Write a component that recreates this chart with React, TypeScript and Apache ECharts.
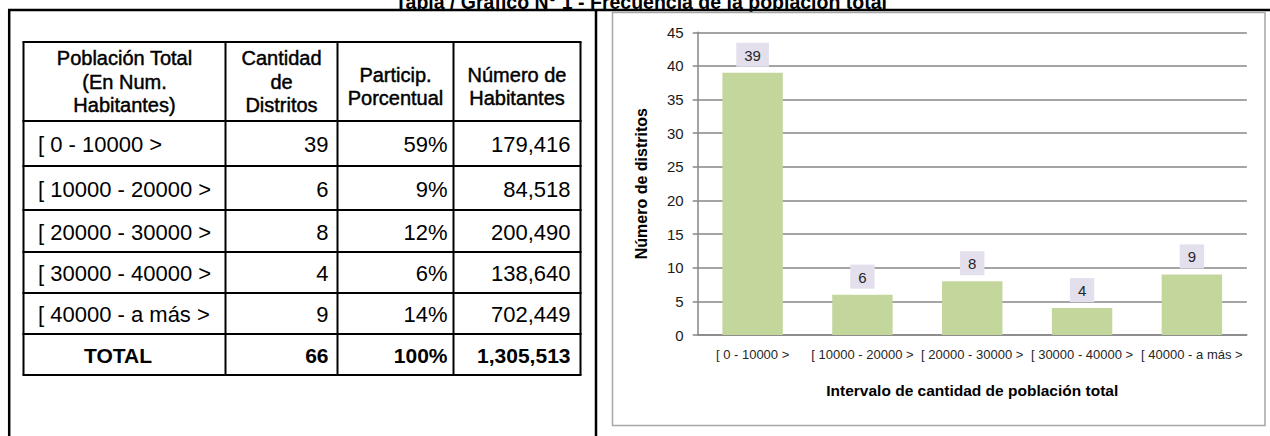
import { useEffect, useRef } from "react";
import * as echarts from "echarts";

// ---- data ----
const TITLE = "Tabla / Gráfico N° 1 - Frecuencia de la población total";
const RANGES = [
  "[ 0 - 10000 >",
  "[ 10000 - 20000 >",
  "[ 20000 - 30000 >",
  "[ 30000 - 40000 >",
  "[ 40000 - a más >",
];
const DISTRICTS = [39, 6, 8, 4, 9];
const SHARE_PCT = [59, 9, 12, 6, 14];
const INHABITANTS = [179416, 84518, 200490, 138640, 702449];
const HEADERS = [
  ["Población Total", "(En Num.", "Habitantes)"],
  ["Cantidad", "de", "Distritos"],
  ["Particip.", "Porcentual"],
  ["Número de", "Habitantes"],
];
const TOTAL_LABEL = "TOTAL";
const Y_MIN = 0;
const Y_MAX = 45;
const Y_STEP = 5;
const Y_NAME = "Número de distritos";
const X_NAME = "Intervalo de cantidad de población total";

// ---- layout ----
const W = 1270;
const H = 436;
const SANS = "'Liberation Sans', Arial, sans-serif";
const COL_X = [23.5, 225.5, 337.5, 453.5, 580.5];
const ROW_Y = [42, 121, 166, 210, 252, 293, 334, 375];

const fmt = (n: number) => n.toLocaleString("en-US");
const sum = (a: number[]) => a.reduce((s, v) => s + v, 0);

function line(x1: number, y1: number, x2: number, y2: number, stroke = "#000", lineWidth = 2) {
  return { type: "line", silent: true, shape: { x1, y1, x2, y2 }, style: { stroke, lineWidth } };
}

function text(
  t: string,
  x: number,
  y: number,
  opts: { size?: number; weight?: string; align?: string; family?: string; fill?: string; stroke?: number } = {}
) {
  const style: any = {
    text: t,
    x,
    y,
    fill: opts.fill ?? "#000",
    fontSize: opts.size ?? 21,
    fontWeight: opts.weight ?? "normal",
    fontFamily: opts.family ?? SANS,
    align: opts.align ?? "center",
    verticalAlign: "middle",
  };
  if (opts.stroke) {
    style.stroke = opts.fill ?? "#000";
    style.lineWidth = opts.stroke;
  }
  return { type: "text", silent: true, style };
}

function buildTable() {
  const els: any[] = [];
  // grid lines
  ROW_Y.forEach((y) => els.push(line(COL_X[0] - 1, y, COL_X[COL_X.length - 1] + 1, y)));
  COL_X.forEach((x) => els.push(line(x, ROW_Y[0], x, ROW_Y[ROW_Y.length - 1])));

  // header
  const headTop = ROW_Y[0];
  const headBot = ROW_Y[1];
  const lh = 23.5;
  HEADERS.forEach((lines, c) => {
    const cx = (COL_X[c] + COL_X[c + 1]) / 2;
    const mid = (headTop + headBot) / 2 + (lines.length === 2 ? 5 : 0);
    const start = mid - ((lines.length - 1) * lh) / 2;
    lines.forEach((l, i) => els.push(text(l, cx, start + i * lh, { size: 20, stroke: 0.45 })));
  });

  // body rows
  const pad = [9, 6, 10];
  const rows = RANGES.map((r, i) => [r, String(DISTRICTS[i]), SHARE_PCT[i] + "%", fmt(INHABITANTS[i])]);
  rows.forEach((cells, r) => {
    const cy = (ROW_Y[r + 1] + ROW_Y[r + 2]) / 2 + 1;
    els.push(text(cells[0], 38, cy, { size: 22, align: "left" }));
    for (let c = 1; c < 4; c++) {
      els.push(text(cells[c], COL_X[c + 1] - pad[c - 1], cy, { size: 22, align: "right" }));
    }
  });

  // total row
  const ty = (ROW_Y[6] + ROW_Y[7]) / 2 + 1;
  els.push(text(TOTAL_LABEL, 118, ty, { size: 21, weight: "bold" }));
  els.push(text(String(sum(DISTRICTS)), COL_X[2] - pad[0], ty, { size: 21, weight: "bold", align: "right" }));
  els.push(text(sum(SHARE_PCT) + "%", COL_X[3] - pad[1], ty, { size: 21, weight: "bold", align: "right" }));
  els.push(text(fmt(sum(INHABITANTS)), COL_X[4] - pad[2], ty, { size: 21, weight: "bold", align: "right" }));
  return els;
}

export default function App() {
  const ref = useRef<HTMLDivElement>(null);

  useEffect(() => {
    if (!ref.current) return;
    const chart = echarts.init(ref.current, undefined, { renderer: "svg", width: W, height: H });

    const graphic: any[] = [
      // page frame
      line(8, 10, W, 10, "#000", 2.5),
      line(9.2, 10, 9.2, H, "#000", 2.5),
      line(596, 10, 596, H, "#000", 2.5),
      // title (runs off the top edge)
      text(TITLE, 641, 1.5, { size: 19.5, weight: "bold" }),
      // chart frame
      {
        type: "rect",
        silent: true,
        shape: { x: 612.5, y: 12.5, width: 652.5, height: 413 },
        style: { fill: "none", stroke: "#a6a6a6", lineWidth: 1.5 },
      },
      ...buildTable(),
    ];

    chart.setOption({
      animation: false,
      backgroundColor: "#fff",
      graphic,
      grid: { left: 697.7, right: W - 1246.8, top: 32.3, bottom: H - 335 },
      xAxis: {
        type: "category",
        data: RANGES,
        axisLine: { show: true, lineStyle: { color: "#868686", width: 1.5 } },
        axisTick: { show: false },
        axisLabel: {
          interval: 0,
          margin: 13,
          fontSize: 13,
          fontFamily: SANS,
          color: "#262626",
        },
        name: X_NAME,
        nameLocation: "middle",
        nameGap: 47,
        nameTextStyle: { fontSize: 15.5, fontWeight: "bold", fontFamily: SANS, color: "#000" },
      },
      yAxis: {
        type: "value",
        min: Y_MIN,
        max: Y_MAX,
        interval: Y_STEP,
        axisLine: { show: true, lineStyle: { color: "#868686", width: 1.5 } },
        axisTick: { show: true, length: 5, lineStyle: { color: "#868686", width: 1.5 } },
        axisLabel: { fontSize: 15, fontFamily: SANS, color: "#1a1a1a", margin: 14 },
        splitLine: { show: true, lineStyle: { color: "#868686", width: 1.5 } },
        name: Y_NAME,
        nameLocation: "middle",
        nameRotate: 90,
        nameGap: 48,
        nameTextStyle: { fontSize: 16, fontWeight: "bold", fontFamily: SANS, color: "#000" },
      },
      series: [
        {
          type: "bar",
          data: DISTRICTS,
          barWidth: "55%",
          itemStyle: { color: "#C3D69B" },
          label: {
            show: true,
            position: "top",
            distance: 6,
            backgroundColor: "#E4DFEC",
            padding: [5, 8, 4, 8],
            fontSize: 15,
            fontFamily: SANS,
            color: "#262626",
          },
        },
      ],
    });

    return () => chart.dispose();
  }, []);

  return (
    <div
      ref={ref}
      style={{ position: "fixed", left: 0, top: 0, width: W, height: H, background: "#fff" }}
    />
  );
}
